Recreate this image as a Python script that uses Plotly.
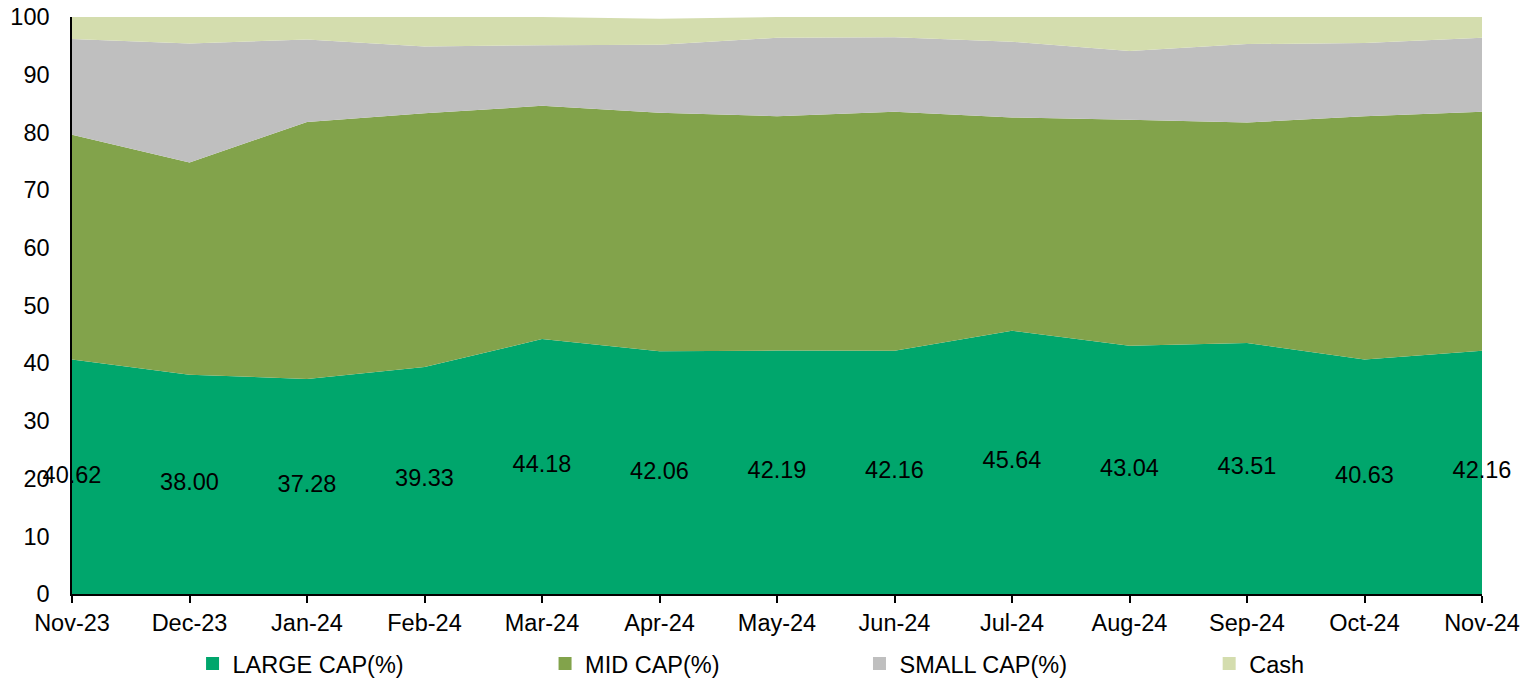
import plotly.graph_objects as go

months = ["Nov-23", "Dec-23", "Jan-24", "Feb-24", "Mar-24", "Apr-24", "May-24",
          "Jun-24", "Jul-24", "Aug-24", "Sep-24", "Oct-24", "Nov-24"]
large_cap = [40.62, 38.00, 37.28, 39.33, 44.18, 42.06, 42.19, 42.16, 45.64, 43.04, 43.51, 40.63, 42.16]
mid_cap = [38.98, 36.80, 44.52, 43.97, 40.42, 41.34, 40.61, 41.44, 36.96, 39.16, 38.19, 42.17, 41.44]
small_cap = [16.60, 20.60, 14.30, 11.60, 10.50, 11.80, 13.60, 12.90, 13.10, 11.90, 13.60, 12.70, 12.80]
cash = [3.80, 4.60, 3.90, 5.10, 4.90, 4.50, 3.60, 3.50, 4.30, 5.90, 4.70, 4.50, 3.60]

series_names = ["LARGE CAP(%)", "MID CAP(%)", "SMALL CAP(%)", "Cash"]
series_values = [large_cap, mid_cap, small_cap, cash]
colors = ["#00A66C", "#82A34B", "#BFBFBF", "#D4DDAE"]
y_ticks = [0, 10, 20, 30, 40, 50, 60, 70, 80, 90, 100]

FONT = "Liberation Sans, Arial, sans-serif"
FS = 23.5

fig = go.Figure()
for name, vals, col in zip(series_names, series_values, colors):
    fig.add_trace(go.Scatter(
        x=months, y=vals, name=name, stackgroup="one", mode="none",
        fillcolor=col, line=dict(width=0), showlegend=False, hoverinfo="x+y+name"))

# data labels for large cap, centred in the band
fig.add_trace(go.Scatter(
    x=months, y=[v / 2 for v in large_cap], mode="text",
    text=[f"{v:.2f}" for v in large_cap], textposition="middle center",
    textfont=dict(family=FONT, size=FS, color="black"),
    showlegend=False, cliponaxis=False, hoverinfo="skip"))

# legend entries (square markers), each in its own legend for placement
legend_x = [0.0855, 0.3355, 0.5585, 0.8065]
for i, (name, col) in enumerate(zip(series_names, colors)):
    lg = "legend" if i == 0 else f"legend{i+1}"
    fig.add_trace(go.Scatter(
        x=[None], y=[None], mode="markers", name=name,
        marker=dict(symbol="square", size=13, color=col),
        legend=lg, showlegend=True))

legend_common = dict(orientation="h", yanchor="middle", y=-0.121, xanchor="left",
                     font=dict(family=FONT, size=FS, color="black"),
                     bgcolor="rgba(0,0,0,0)", borderwidth=0)

layout_legends = {}
for i, lx in enumerate(legend_x):
    key = "legend" if i == 0 else f"legend{i+1}"
    layout_legends[key] = dict(legend_common, x=lx)

fig.update_layout(
    width=1530, height=678,
    margin=dict(l=72, r=48, t=17, b=84, autoexpand=False),
    paper_bgcolor="white", plot_bgcolor="white",
    font=dict(family=FONT, size=FS, color="black"),
    xaxis=dict(type="category", range=[0, 12], showgrid=False, zeroline=False,
               showline=True, linecolor="black", linewidth=1.5,
               ticks="outside", ticklen=7, tickcolor="black", tickwidth=1.5,
               tickfont=dict(family=FONT, size=FS, color="black")),
    yaxis=dict(range=[0, 100], tickvals=y_ticks, showgrid=False, zeroline=False,
               showline=True, linecolor="black", linewidth=1.5,
               ticks="outside", ticklen=0, ticklabelstandoff=16,
               tickfont=dict(family=FONT, size=FS, color="black")),
    **layout_legends,
)

fig.write_html("out.html", config={"displayModeBar": False},
               post_script="document.body.style.margin='0';")
